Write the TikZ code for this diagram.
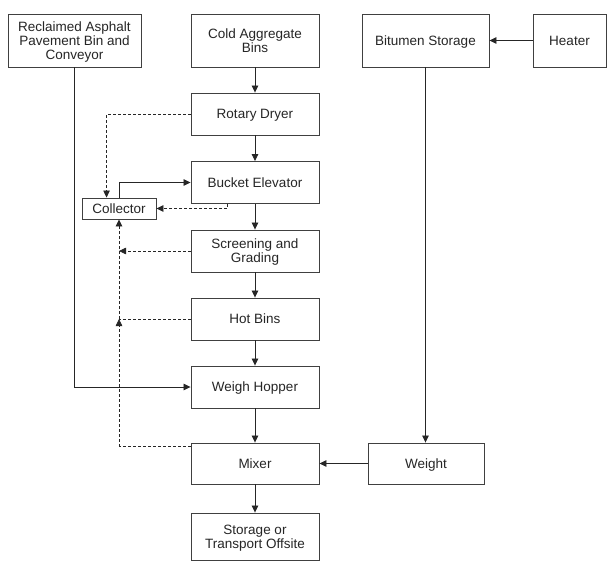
\documentclass[tikz,border=0pt]{standalone}
\usepackage{fontspec}
\setmainfont{Liberation Sans}
\usetikzlibrary{arrows.meta,calc}
\definecolor{edge}{gray}{0.25}
\begin{document}
\begin{tikzpicture}[x=1pt,y=-1pt,
  box/.style={draw=edge,line width=0.9pt,minimum width=128pt,minimum height=42pt,
    align=center,inner sep=0pt,text depth=0pt,font=\fontsize{13.5}{14}\selectfont,text=black!85},
  line/.style={draw=black!85,line width=0.8pt},
  flow/.style={line,-{Triangle[length=7pt,width=6.5pt]}},
  dline/.style={line,dash pattern=on 3pt off 2pt},
  dflow/.style={flow,dash pattern=on 3pt off 2pt}]
\fill[white] (0,0) rectangle (611,573);
\useasboundingbox (0,0) rectangle (611,573);
% boxes
\node[box,minimum width=133pt,minimum height=53pt] (rap) at (74.5,40.5) {Reclaimed Asphalt\\Pavement Bin and\\Conveyor};
\node[box,minimum height=53pt] (cold) at (255,40.5) {Cold Aggregate\\Bins};
\node[box,minimum width=127pt,minimum height=53pt] (bit) at (425.5,40.5) {Bitumen Storage};
\node[box,minimum width=73pt,minimum height=53pt] (heat) at (569.5,40.5) {Heater};
\node[box] (dry) at (255,114) {Rotary Dryer};
\node[box] (buck) at (255,182.5) {Bucket Elevator};
\node[box,minimum width=74pt,minimum height=21pt] (coll) at (119,208.5) {Collector};
\node[box] (scr) at (255,251) {Screening and\\Grading};
\node[box] (hot) at (255,319) {Hot Bins};
\node[box] (wh) at (255,387) {Weigh Hopper};
\node[box,minimum height=41pt] (mix) at (255,463.5) {Mixer};
\node[box,minimum width=116pt,minimum height=41pt] (wt) at (426,463.5) {Weight};
\node[box,minimum height=47pt] (st) at (255,536.5) {Storage or\\Transport Offsite};
% main flow
\draw[flow] (cold) -- (dry);
\draw[flow] (dry) -- (buck);
\draw[flow] (buck) -- (scr);
\draw[flow] (scr) -- (hot);
\draw[flow] (hot) -- (wh);
\draw[flow] (wh) -- (mix);
\draw[flow] (mix) -- (st);
\draw[flow] (heat) -- (bit);
\draw[flow] (bit.south) -- (bit.south |- wt.north);
\draw[flow] (wt) -- (mix);
\draw[flow] (rap.south) |- (wh.west);
\draw[flow] (coll.north) |- (buck.west);
% dust lines
\coordinate (cA) at ($(coll.north west)+(25,0)$);
\draw[dflow] (dry.west) -| (cA);
\coordinate (bA) at ($(buck.south west)+(37,0)$);
\draw[dflow] (bA) |- (coll.east);
\coordinate (jS) at (coll.south |- scr.west);
\draw[dflow] (scr.west) -- (jS);
\coordinate (jH) at (coll.south |- hot.west);
\draw[dline] (hot.west) -- (jH);
\coordinate (mA) at ($(mix.north west)+(0,4)$);
\coordinate (jM) at (coll.south |- mA);
\draw[dline] (mA) -- (jM);
\draw[dflow] (jM) -- (jH);
\draw[dflow] (jH) -- (coll.south);
\end{tikzpicture}
\end{document}
